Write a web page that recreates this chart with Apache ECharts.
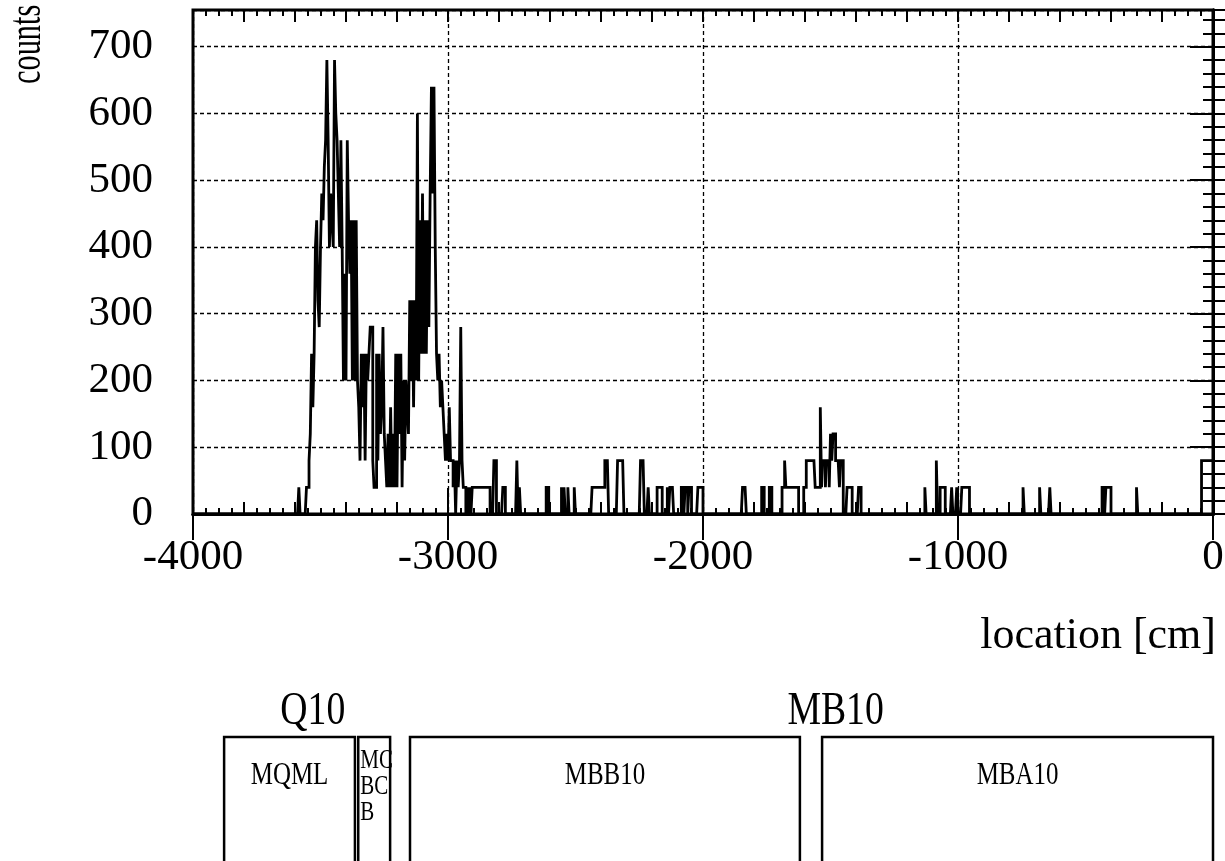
<!DOCTYPE html>
<html><head><meta charset="utf-8">
<script src="https://cdn.jsdelivr.net/npm/echarts@6/dist/echarts.min.js"></script>
<style>html,body{margin:0;padding:0;background:#fff}#c{width:1225px;height:861px}</style>
</head><body><div id="c"></div>
<script>
// ---- data ----
const X_MIN = -4000, X_MAX = 0, BIN_W = 5;
const Y_MAX = 755;
const yTickMax = 700;
// dense part of the histogram: 5 cm bins starting at denseStart
const denseStart = -3590;
const denseCounts = [
  0,40,0,0,0,0,0,40,40,80,
  120,240,160,240,400,440,320,280,400,480,
  440,520,560,680,560,400,480,440,400,680,
  600,560,480,400,560,400,200,360,200,560,
  440,360,440,200,440,200,440,200,160,80,
  240,160,240,80,240,200,240,280,280,80,
  40,40,240,80,240,120,160,280,120,80,
  40,120,40,160,40,120,40,240,40,240,
  120,240,40,200,80,200,160,120,320,200,
  320,160,320,200,600,200,440,240,480,240,
  440,240,440,280,480,640,480,640,400,240,
  200,240,160,200,160,120,80,120,80,160,
  80,80,40,80,0,80,40,80,280,80,
  40,40,0
];
// sparse part: left edge of each non-empty 5 cm bin and its count
const sparseLeft = [
  -2925,-2915,-2905,-2900,-2895,-2890,-2885,-2880,-2875,-2870,-2865,-2860,-2855,-2850,-2845,-2840,
  -2820,-2815,-2785,-2780,-2730,-2720,-2615,-2610,-2555,-2545,-2530,-2505,
  -2435,-2430,-2425,-2420,-2415,-2410,-2405,-2400,-2395,-2390,-2385,-2380,-2375,
  -2335,-2330,-2325,-2320,-2315,-2245,-2240,-2235,-2215,
  -2180,-2175,-2170,-2165,-2140,-2130,-2125,-2120,-2085,-2080,-2070,-2065,-2055,-2050,
  -2020,-2015,-2010,-2005,
  -1845,-1840,-1835,-1770,-1765,-1740,-1735,
  -1690,-1685,-1680,-1675,-1670,-1665,-1660,-1655,-1650,-1645,-1640,-1635,-1630,
  -1605,-1600,-1595,-1590,-1585,-1580,-1575,-1570,-1565,-1560,-1555,-1550,-1545,
  -1540,-1535,-1530,-1525,-1520,-1515,-1510,-1505,-1500,-1495,-1490,-1485,-1480,
  -1475,-1470,-1465,-1460,-1455,-1435,-1430,-1425,-1420,-1390,-1385,
  -1130,-1085,-1070,-1065,-1060,-1055,-1025,-1005,-985,-980,-975,-970,-965,-960,
  -745,-680,-640,-435,-430,-420,-415,-410,-405,-300,
  -45,-40,-35,-30,-25,-20,-15,-10,-5
];
const sparseCounts = [
  40,40,40,40,40,40,40,40,40,40,40,40,40,40,40,40,
  80,80,40,40,80,40,40,40,40,40,40,40,
  40,40,40,40,40,40,40,40,40,40,80,80,80,
  80,80,80,80,80,80,80,80,40,
  40,40,40,40,40,40,40,40,40,40,40,40,40,40,
  40,40,40,40,
  40,40,40,40,40,40,40,
  40,40,80,40,40,40,40,40,40,40,40,40,40,
  40,40,80,80,80,80,80,80,80,40,40,40,40,
  160,40,80,80,40,80,80,40,120,80,120,120,80,
  80,80,40,80,80,40,40,40,40,40,40,
  40,80,40,40,40,40,40,40,40,40,40,40,40,40,
  40,40,40,40,40,40,40,40,40,40,
  80,80,80,80,80,80,80,80,80
];
// beam-line layout drawn under the plot (cm)
const magnetNames = ['MQML', 'MC\nBC\nB', 'MBB10', 'MBA10'];
const magnetFrom  = [-3878, -3352, -3149, -1533];
const magnetTo    = [-3365, -3227, -1620, 0];
const groupNames  = ['Q10', 'MB10'];
const groupCenter = [-3530, -1480];

// ---- build histogram step line ----
const nBins = (X_MAX - X_MIN) / BIN_W;
const counts = new Array(nBins).fill(0);
denseCounts.forEach((c, i) => { counts[Math.round((denseStart + i * BIN_W - X_MIN) / BIN_W)] = c; });
sparseLeft.forEach((x, i) => { counts[Math.round((x - X_MIN) / BIN_W)] = sparseCounts[i]; });
const pts = counts.map((c, i) => [X_MIN + i * BIN_W, c]);
pts.push([X_MAX, counts[nBins - 1]]);

const FONT = 'Liberation Serif';
const black = '#000';
function xAx(pos, interval, len, extra) {
  return Object.assign({
    type: 'value', position: pos, min: X_MIN, max: X_MAX, interval: interval,
    axisLine: { show: false }, axisLabel: { show: false }, splitLine: { show: false },
    axisTick: { show: true, inside: true, length: len, lineStyle: { color: black, width: 2 } }
  }, extra || {});
}
function yAx(pos, interval, len, extra) {
  return Object.assign({
    type: 'value', position: pos, min: 0, max: Y_MAX, interval: interval,
    axisLine: { show: false }, axisLabel: { show: false }, splitLine: { show: false },
    axisTick: { show: true, inside: true, length: len, lineStyle: { color: black, width: 2 } }
  }, extra || {});
}
const chart = echarts.init(document.getElementById('c'), null, { renderer: 'canvas' });
chart.setOption({
  animation: false,
  backgroundColor: '#fff',
  grid: { left: 193, top: 10, width: 1020, height: 504, show: true, borderColor: black, borderWidth: 3, containLabel: false, outerBoundsMode: 'none' },
  xAxis: [
    xAx('bottom', 1000, 26, {
      axisLine: { show: true, lineStyle: { color: black, width: 3 } },
      axisLabel: { show: true, color: black, fontFamily: FONT, fontSize: 43, margin: 22, formatter: v => String(v) },
      splitLine: { show: true, lineStyle: { color: black, width: 1.3, type: [4, 3] } }
    }),
    xAx('bottom', 200, 12),
    xAx('bottom', 50, 6),
    xAx('top', 1000, 26, { axisLine: { show: true, lineStyle: { color: black, width: 3 } } }),
    xAx('top', 200, 12),
    xAx('top', 50, 6)
  ],
  yAxis: [
    yAx('left', 100, 27, {
      axisLine: { show: true, lineStyle: { color: black, width: 3 } },
      axisLabel: { show: true, color: black, fontFamily: FONT, fontSize: 43, margin: 40,
        formatter: v => (v <= yTickMax && v % 100 === 0) ? String(v) : '' },
      splitLine: { show: true, lineStyle: { color: black, width: 1.3, type: [4, 3] } }
    }),
    yAx('left', 20, 12),
    yAx('right', 100, 23, { axisLine: { show: true, lineStyle: { color: black, width: 3 } } }),
    yAx('right', 20, 10)
  ],
  series: [{
    type: 'line', step: 'end', data: pts, xAxisIndex: 0, yAxisIndex: 0,
    symbol: 'none', showSymbol: false, clip: true, sampling: 'none', large: false,
    lineStyle: { color: black, width: 2.8, join: 'miter' }, silent: true
  }]
});

const px = v => chart.convertToPixel({ xAxisIndex: 0 }, v);
const gfx = [];
gfx.push({ type: 'text', x: 28, y: 84, rotation: Math.PI / 2, scaleX: 0.66,
  style: { text: 'counts', fill: black, font: '46px "' + FONT + '"', textAlign: 'left', textVerticalAlign: 'middle' } });
gfx.push({ type: 'text', x: 1216, y: 636,
  style: { text: 'location [cm]', fill: black, font: '44px "' + FONT + '"', textAlign: 'right', textVerticalAlign: 'middle' } });
magnetNames.forEach((n, i) => {
  const a = px(magnetFrom[i]), b = px(magnetTo[i]);
  gfx.push({ type: 'rect', shape: { x: a, y: 737, width: b - a, height: 140 },
    style: { fill: 'none', stroke: black, lineWidth: 2.5 } });
  if (n.indexOf('\n') >= 0) {
    gfx.push({ type: 'text', x: a + 2, y: 748, scaleX: 0.75,
      style: { text: n, fill: black, font: '28px "' + FONT + '"', lineHeight: 26, textAlign: 'left', textVerticalAlign: 'top' } });
  } else {
    gfx.push({ type: 'text', x: (a + b) / 2, y: 776, scaleX: 0.78,
      style: { text: n, fill: black, font: '32px "' + FONT + '"', textAlign: 'center', textVerticalAlign: 'middle' } });
  }
});
groupNames.forEach((n, i) => {
  gfx.push({ type: 'text', x: px(groupCenter[i]), y: 712, scaleX: 0.82,
    style: { text: n, fill: black, font: '46px "' + FONT + '"', textAlign: 'center', textVerticalAlign: 'middle' } });
});
chart.setOption({ graphic: gfx });
</script>
</body></html>
